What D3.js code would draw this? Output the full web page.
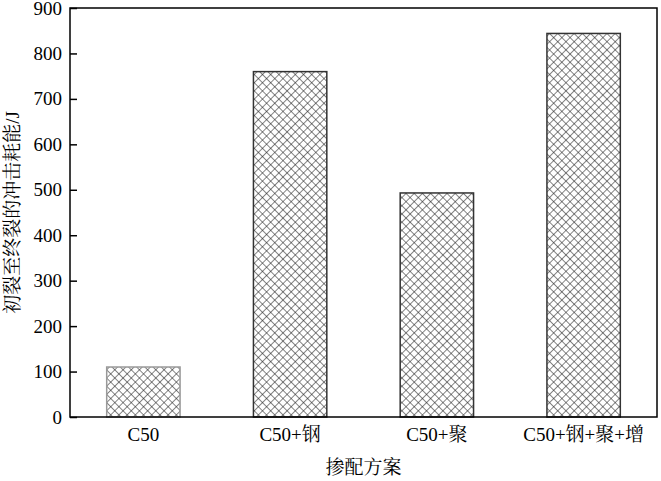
<!DOCTYPE html>
<html><head><meta charset="utf-8">
<script src="https://cdn.jsdelivr.net/npm/d3@7"></script>
<style>body{margin:0;background:#fff}</style>
</head><body>
<script>
const categories = ["C50", "C50+钢", "C50+聚", "C50+钢+聚+增"];
const values = [110, 760, 493, 844];
const yTicks = [0, 100, 200, 300, 400, 500, 600, 700, 800, 900];
const xTitle = "掺配方案";
const yTitle = "初裂至终裂的冲击耗能/J";

const W = 661, H = 481;
const m = {left: 70, top: 8, right: 4, bottom: 64};
const FONT = '"Liberation Serif", "Times New Roman", "Noto Serif CJK SC", "Noto Sans CJK SC", serif';

const svg = d3.select("body").append("svg").attr("width", W).attr("height", H);
const defs = svg.append("defs");
const pat = defs.append("pattern").attr("id", "hatch")
  .attr("patternUnits", "userSpaceOnUse").attr("width", 5.8).attr("height", 5.8)
  .attr("patternTransform", "rotate(45)");
pat.append("rect").attr("width", 5.8).attr("height", 5.8).attr("fill", "#fff");
pat.append("line").attr("x1", 0).attr("y1", 0).attr("x2", 0).attr("y2", 5.8).attr("stroke", "#222").attr("stroke-width", 1.1);
pat.append("line").attr("x1", 0).attr("y1", 0).attr("x2", 5.8).attr("y2", 0).attr("stroke", "#222").attr("stroke-width", 1.1);

const x = d3.scaleBand().domain(categories).range([m.left, W - m.right])
  .paddingInner(0.5).paddingOuter(0.25);
const y = d3.scaleLinear().domain([0, 900]).range([H - m.bottom, m.top]);

svg.append("g").selectAll("rect").data(values).join("rect")
  .attr("x", (d, i) => x(categories[i]))
  .attr("y", d => y(d))
  .attr("width", x.bandwidth())
  .attr("height", d => y(0) - y(d))
  .attr("fill", "url(#hatch)")
  .attr("stroke", (d, i) => i === 0 ? "#999" : "#333")
  .attr("stroke-width", 1.5);

// frame
svg.append("rect").attr("x", m.left).attr("y", m.top)
  .attr("width", W - m.right - m.left).attr("height", H - m.bottom - m.top)
  .attr("fill", "none").attr("stroke", "#000").attr("stroke-width", 1.5);

const ya = svg.append("g").attr("transform", `translate(${m.left},0)`)
  .call(d3.axisLeft(y).tickValues(yTicks).tickSizeInner(-7).tickSizeOuter(0).tickPadding(8));
ya.select(".domain").remove();
ya.selectAll("line").attr("stroke", "#000").attr("stroke-width", 1.5);
ya.selectAll("text").style("font-family", FONT).attr("font-size", 19).attr("fill", "#000");

const xa = svg.append("g").attr("transform", `translate(0,${H - m.bottom})`)
  .call(d3.axisBottom(x).tickSize(0).tickPadding(11));
xa.select(".domain").remove();
xa.selectAll("text").style("font-family", FONT).attr("font-size", 19).attr("fill", "#000");

svg.append("text").attr("x", (m.left + W - m.right) / 2).attr("y", 474)
  .attr("text-anchor", "middle").style("font-family", FONT).attr("font-size", 19).text(xTitle);

svg.append("text").attr("transform", `translate(19,${(m.top + H - m.bottom) / 2}) rotate(-90)`)
  .attr("text-anchor", "middle").style("font-family", FONT).attr("font-size", 19).text(yTitle);
</script>
</body></html>
